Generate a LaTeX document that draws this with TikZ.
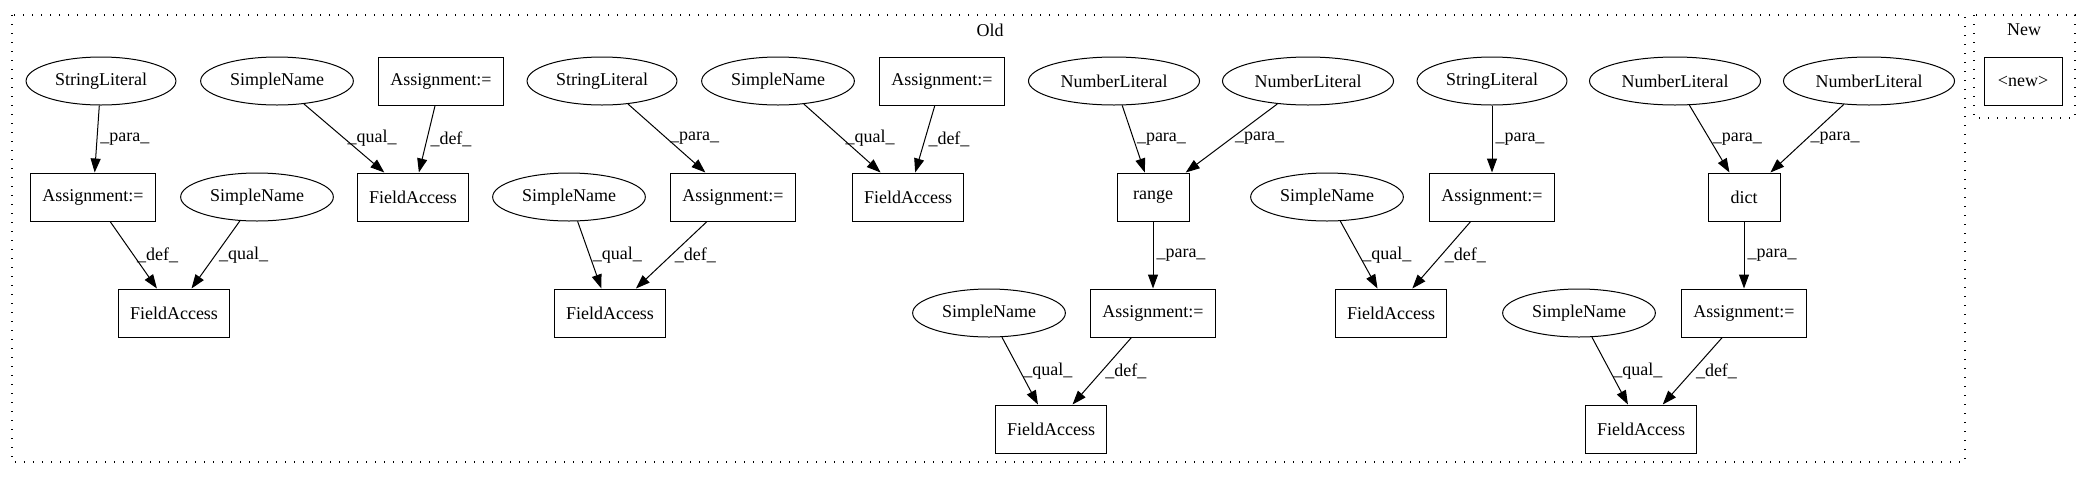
\documentclass[tikz,border=0pt]{standalone}
\usepackage{fontspec}
\setmainfont{Liberation Serif}
\usetikzlibrary{shapes.geometric,arrows.meta}

\begin{document}
\begin{tikzpicture}[x=1pt,y=-1pt,-,>={Stealth[length=14pt,width=10pt,inset=0pt]},line width=1pt,node distance=116pt,
    lit node/.style={ellipse,draw,minimum height=48pt,inner xsep=7pt,font=\fontsize{18}{21}\selectfont},
    op node/.style={rectangle,draw,minimum height=48pt,minimum width=72pt,font=\fontsize{18}{21}\selectfont},
    asg node/.style={op node,minimum width=125pt},
    fa node/.style={op node,minimum width=111pt},
    edge label/.style={anchor=west,inner sep=3pt,font=\fontsize{18}{21}\selectfont},
    cluster/.style={draw,dash pattern=on 1.3pt off 7.7pt,line width=1.2pt}]

            \useasboundingbox (0,0) rectangle (2088,480);

            % clusters
            \draw[cluster] (12,15) rectangle (1965,462);
            \node[font=\fontsize{18}{21}\selectfont] (old) at (990,30) {Old};
            \draw[cluster] (1974,15) rectangle (2075,118);
            \node[font=\fontsize{18}{21}\selectfont] (new) at (2024,30) {New};

            % top row
            \node[lit node] (1) at (101,81) {StringLiteral};
            \node[lit node] (2) at (277,81) {SimpleName};
            \node[asg node] (3) at (441,81) {Assignment:=};
            \node[lit node] (4) at (602,81) {StringLiteral};
            \node[lit node] (5) at (778,81) {SimpleName};
            \node[asg node] (6) at (942,81) {Assignment:=};
            \node[lit node] (7) at (1114,81) {NumberLiteral};
            \node[lit node] (8) at (1308,81) {NumberLiteral};
            \node[lit node] (9) at (1492,81) {StringLiteral};
            \node[lit node] (10) at (1675,81) {NumberLiteral};
            \node[lit node] (11) at (1869,81) {NumberLiteral};
            \node[op node, minimum width=78pt] (31) at (2023,81) {<new>};

            % second row
            \node[asg node] (12) at (93,197) {Assignment:=};
            \node[lit node] (13) at (257,197) {SimpleName};
            \node[fa node] (14) at (413,197) {FieldAccess};
            \node[lit node] (15) at (569,197) {SimpleName};
            \node[asg node] (16) at (733,197) {Assignment:=};
            \node[fa node] (17) at (908,197) {FieldAccess};
            \node[op node] (18) at (1153,197) {range};
            \node[lit node] (19) at (1327,197) {SimpleName};
            \node[asg node] (20) [below of = 9] {Assignment:=};
            \node[op node] (21) at (1744,197) {dict};

            % third row
            \node[fa node] (22) at (174,313) {FieldAccess};
            \node[fa node] (23) at (610,313) {FieldAccess};
            \node[lit node] (24) at (989,313) {SimpleName};
            \node[asg node] (25) [below of = 18] {Assignment:=};
            \node[fa node] (26) at (1391,313) {FieldAccess};
            \node[lit node] (27) at (1579,313) {SimpleName};
            \node[asg node] (28) [below of = 21] {Assignment:=};

            % bottom row
            \node[fa node] (29) at (1051,429) {FieldAccess};
            \node[fa node] (30) at (1641,429) {FieldAccess};

            \draw[->] (1) to node[edge label] {\_para\_} (12);
            \draw[->] (12) to node[edge label] {\_def\_} (22);
            \draw[->] (13) to node[edge label] {\_qual\_} (22);
            \draw[->] (2) to node[edge label] {\_qual\_} (14);
            \draw[->] (3) to node[edge label] {\_def\_} (14);
            \draw[->] (4) to node[edge label] {\_para\_} (16);
            \draw[->] (15) to node[edge label] {\_qual\_} (23);
            \draw[->] (16) to node[edge label] {\_def\_} (23);
            \draw[->] (5) to node[edge label] {\_qual\_} (17);
            \draw[->] (6) to node[edge label] {\_def\_} (17);
            \draw[->] (7) to node[edge label] {\_para\_} (18);
            \draw[->] (8) to node[edge label] {\_para\_} (18);
            \draw[->] (18) to node[edge label] {\_para\_} (25);
            \draw[->] (24) to node[edge label] {\_qual\_} (29);
            \draw[->] (25) to node[edge label] {\_def\_} (29);
            \draw[->] (9) to node[edge label] {\_para\_} (20);
            \draw[->] (19) to node[edge label] {\_qual\_} (26);
            \draw[->] (20) to node[edge label] {\_def\_} (26);
            \draw[->] (10) to node[edge label] {\_para\_} (21);
            \draw[->] (11) to node[edge label] {\_para\_} (21);
            \draw[->] (21) to node[edge label] {\_para\_} (28);
            \draw[->] (27) to node[edge label] {\_qual\_} (30);
            \draw[->] (28) to node[edge label] {\_def\_} (30);

            ;
        \end{tikzpicture}
\end{document}
